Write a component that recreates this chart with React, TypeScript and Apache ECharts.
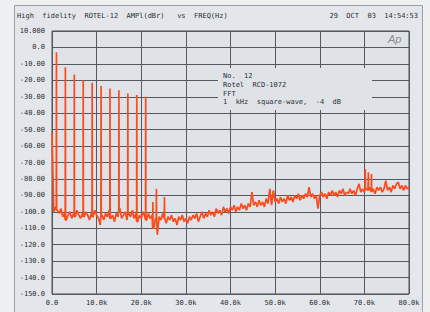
import React, { useEffect, useRef } from "react";
import * as echarts from "echarts";

// Frequency axis (kHz) tick labels
const xTickLabels = ["0.0", "10.0k", "20.0k", "30.0k", "40.0k", "50.0k", "60.0k", "70.0k", "80.0k"];
// dB axis tick labels, from -150 up to +10
const yTickLabels = [
  "-150.0", "-140.0", "-130.0", "-120.0", "-110.0", "-100.0",
  "-90.00", "-80.00", "-70.00", "-60.00", "-50.00", "-40.00",
  "-30.00", "-20.00", "-10.00", "0.0", "10.000",
];

// FFT noise floor, dBr, sampled every 0.4 kHz from 0 to 80 kHz
const noiseStepKHz = 0.4;
const noiseDb = [
  -52, -100, -97, -99, -101, -98, -103, -101, -105, -102,
  -100, -104, -101, -103, -99, -102, -104, -101, -103, -100,
  -102, -105, -101, -103, -99, -102, -104, -108, -102, -105,
  -101, -103, -99, -104, -102, -106, -101, -103, -98, -104,
  -102, -100, -105, -101, -103, -99, -104, -101, -106, -102,
  -104, -100, -103, -105, -101, -104, -102, -110, -104, -114,
  -103, -105, -101, -104, -107, -103, -105, -102, -106, -104,
  -108, -103, -105, -102, -106, -104, -107, -103, -105, -102,
  -104, -101, -106, -103, -100, -104, -101, -103, -99, -102,
  -100, -103, -98, -101, -99, -102, -97, -100, -98, -101,
  -97, -99, -96, -100, -97, -99, -95, -98, -96, -99,
  -95, -97, -88, -96, -94, -97, -93, -96, -94, -97,
  -92, -95, -86, -96, -87, -94, -92, -95, -91, -94,
  -92, -95, -90, -93, -91, -94, -90, -92, -89, -93,
  -90, -92, -89, -91, -85, -91, -89, -92, -90, -98,
  -90, -88, -91, -89, -92, -88, -90, -87, -90, -88,
  -91, -87, -89, -86, -90, -88, -89, -86, -89, -87,
  -90, -86, -83, -88, -86, -88, -86, -87, -85, -88,
  -86, -89, -85, -87, -85, -88, -86, -81, -87, -85,
  -88, -84, -86, -83, -82, -86, -84, -87, -84, -86,
  -85,
];

// Square-wave odd harmonics (1..21 kHz) and spurious tones
const spikeKHz = [1, 3, 5, 7, 9, 11, 13, 15, 17, 19, 21, 22.6, 23.4, 25.2, 70.2, 70.9, 71.6];
const spikeDb = [-3, -12, -16.5, -20, -21.5, -23.5, -25, -26, -28, -29, -30, -94, -86, -91, -74, -76, -77];

function buildTrace(): number[][] {
  const pts: number[][] = noiseDb.map((v, i) => [+(i * noiseStepKHz).toFixed(2), v]);
  spikeKHz.forEach((f, k) => {
    const base = noiseDb[Math.min(noiseDb.length - 1, Math.round(f / noiseStepKHz))];
    pts.push([f - 0.04, base], [f, spikeDb[k]], [f + 0.04, base]);
  });
  pts.sort((a, b) => a[0] - b[0]);
  return pts;
}

const MONO = "DejaVu Sans Mono, Liberation Mono, monospace";
const TXT = "#2c2f34";

export default function App() {
  const ref = useRef<HTMLDivElement>(null);
  useEffect(() => {
    if (!ref.current) return;
    const chart = echarts.init(ref.current, null, { renderer: "svg" });
    chart.setOption({
      animation: false,
      backgroundColor: "#eef0f2",
      grid: {
        left: 52, right: 21, top: 31, bottom: 18,
        show: true, backgroundColor: "#dfe3e8", borderColor: "#4a4e54", borderWidth: 1,
      },
      xAxis: {
        type: "value", min: 0, max: 80, interval: 10,
        axisLine: { show: false }, axisTick: { show: false },
        splitLine: { show: true, lineStyle: { color: "#565a60", width: 1 } },
        axisLabel: {
          margin: 5, fontFamily: MONO, fontSize: 7, color: TXT,
          formatter: (v: number) => xTickLabels[Math.round(v / 10)] ?? "",
        },
      },
      yAxis: {
        type: "value", min: -150, max: 10, interval: 10,
        axisLine: { show: false }, axisTick: { show: false },
        splitLine: { show: true, lineStyle: { color: "#565a60", width: 1 } },
        axisLabel: {
          margin: 7, fontFamily: MONO, fontSize: 7, color: TXT,
          formatter: (v: number) => yTickLabels[Math.round((v + 150) / 10)] ?? "",
        },
      },
      series: [
        {
          type: "line", data: buildTrace(), showSymbol: false, symbol: "none",
          z: 3,
          lineStyle: { color: "#ff4a1c", width: 1.7 },
        },
      ],
      graphic: [
        {
          type: "rect", z: -1, silent: true,
          shape: { x: 14.5, y: 5.5, width: 408, height: 312 },
          style: { fill: "#e3e6ea", stroke: "#9aa0a7", lineWidth: 1 },
        },
        {
          type: "text", left: 17, top: 12, z: 10,
          style: { text: "High  fidelity  ROTEL-12  AMPl(dBr)   vs  FREQ(Hz)", font: `7px ${MONO}`, fill: TXT },
        },
        {
          type: "text", right: 12, top: 12, z: 10,
          style: { text: "29  OCT  03  14:54:53", font: `7px ${MONO}`, fill: TXT },
        },
        {
          type: "rect", z: 10, silent: true,
          shape: { x: 218, y: 68, width: 154, height: 42 },
          style: { fill: "#dfe3e8" },
        },
        {
          type: "text", left: 223, top: 72, z: 11,
          style: {
            text: "No.  12\nRotel  RCD-1072\nFFT\n1  kHz  square-wave,  -4  dB",
            font: `7px ${MONO}`, fill: TXT, lineHeight: 8.7,
          },
        },
        {
          type: "text", left: 388, top: 33, z: 11,
          style: { text: "Ap", font: `italic 11px Liberation Sans, sans-serif`, fill: "#8a8f96" },
        },
      ],
    });
    return () => chart.dispose();
  }, []);
  return (
    <div style={{ position: "fixed", left: 0, top: 0, width: 430, height: 312, margin: 0 }}>
      <div ref={ref} style={{ width: 430, height: 312 }} />
    </div>
  );
}
